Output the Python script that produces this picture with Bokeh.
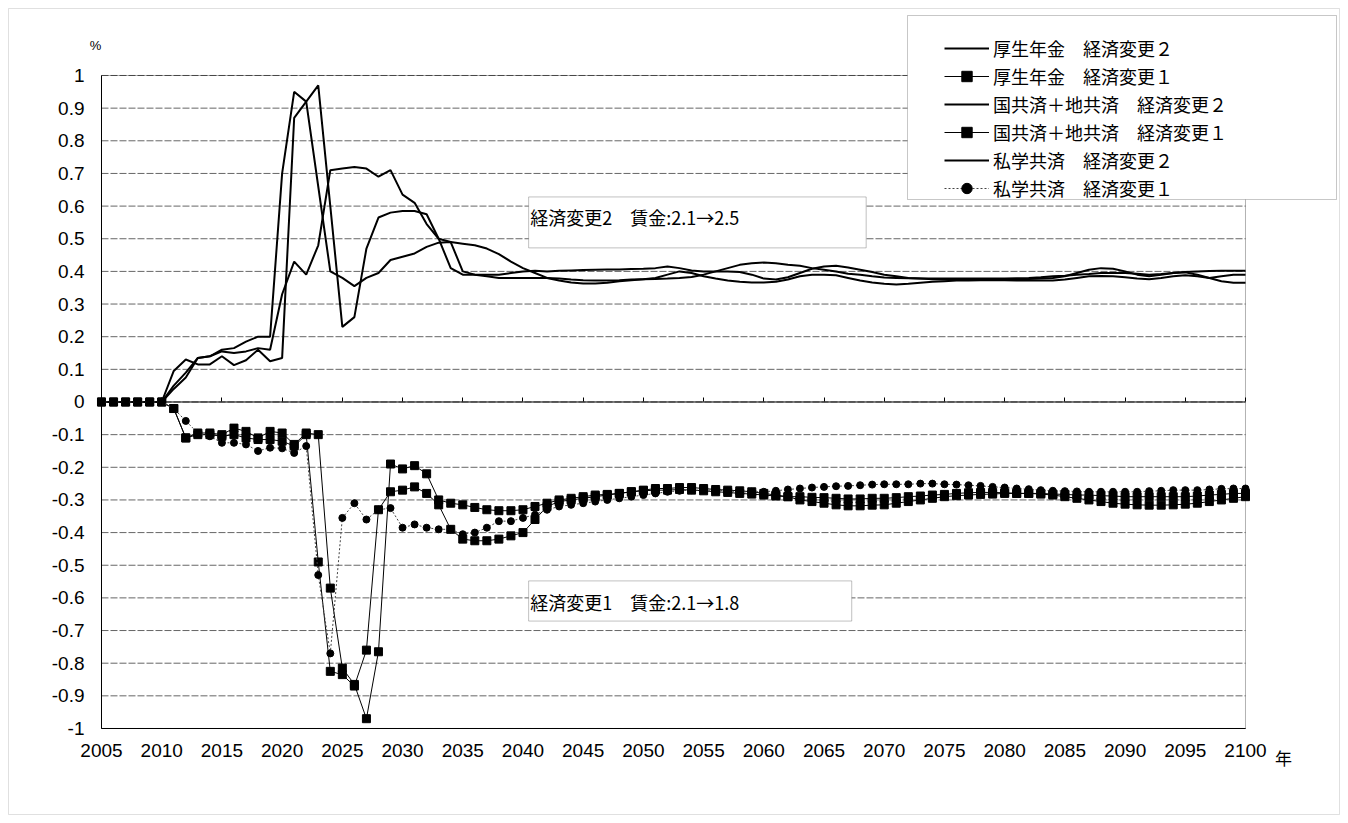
from bokeh.plotting import figure
from bokeh.models import (FixedTicker, Legend, LegendItem, Label, BoxAnnotation,
                          LinearAxis, CustomJSTickFormatter)
from bokeh.embed import file_html
from bokeh.resources import INLINE

# ---------------- data ----------------
years = list(range(2005, 2101))

x_ticks = [2005, 2010, 2015, 2020, 2025, 2030, 2035, 2040, 2045, 2050,
           2055, 2060, 2065, 2070, 2075, 2080, 2085, 2090, 2095, 2100]
y_ticks = [1.0, 0.9, 0.8, 0.7, 0.6, 0.5, 0.4, 0.3, 0.2, 0.1, 0.0,
           -0.1, -0.2, -0.3, -0.4, -0.5, -0.6, -0.7, -0.8, -0.9, -1.0]
y_labels = ["1", "0.9", "0.8", "0.7", "0.6", "0.5", "0.4", "0.3", "0.2", "0.1", "0",
            "-0.1", "-0.2", "-0.3", "-0.4", "-0.5", "-0.6", "-0.7", "-0.8", "-0.9", "-1"]

names = ["厚生年金　経済変更２", "厚生年金　経済変更１",
         "国共済＋地共済　経済変更２", "国共済＋地共済　経済変更１",
         "私学共済　経済変更２", "私学共済　経済変更１"]

kosei_2 = [0, 0, 0, 0, 0, 0,
           0.05, 0.09, 0.135, 0.14, 0.16, 0.165, 0.185, 0.20, 0.20, 0.70,
           0.95, 0.92, 0.66, 0.40, 0.38, 0.355, 0.38, 0.395, 0.435, 0.445,
           0.455, 0.475, 0.488, 0.49, 0.485, 0.48, 0.47, 0.453, 0.43, 0.41,
           0.395, 0.38, 0.372, 0.366, 0.363, 0.363, 0.365, 0.37, 0.373, 0.376,
           0.38, 0.39, 0.40, 0.395, 0.385, 0.378, 0.372, 0.368, 0.366, 0.366,
           0.368, 0.375, 0.385, 0.39, 0.39, 0.388, 0.38, 0.372, 0.366, 0.362,
           0.36, 0.362, 0.365, 0.368, 0.37, 0.372, 0.372, 0.373, 0.373, 0.373,
           0.372, 0.372, 0.372, 0.372, 0.375, 0.38, 0.385, 0.386, 0.385, 0.382,
           0.378, 0.376, 0.38, 0.385, 0.388, 0.385, 0.38, 0.385, 0.39, 0.39]

kyosai_2 = [0, 0, 0, 0, 0, 0,
            0.095, 0.13, 0.115, 0.115, 0.14, 0.113, 0.128, 0.16, 0.125, 0.135,
            0.87, 0.92, 0.97, 0.60, 0.23, 0.26, 0.47, 0.565, 0.58, 0.585,
            0.585, 0.575, 0.50, 0.41, 0.39, 0.39, 0.39, 0.39, 0.395, 0.40,
            0.402, 0.40, 0.402, 0.403, 0.404, 0.405, 0.406, 0.406, 0.407, 0.408,
            0.41, 0.415, 0.41, 0.403, 0.40, 0.40, 0.40, 0.398, 0.39, 0.378,
            0.375, 0.382, 0.395, 0.408, 0.415, 0.417, 0.412, 0.405, 0.398, 0.39,
            0.385, 0.38, 0.378, 0.376, 0.375, 0.375, 0.375, 0.375, 0.375, 0.375,
            0.376, 0.377, 0.378, 0.38, 0.385, 0.395, 0.405, 0.41, 0.408, 0.40,
            0.39, 0.385, 0.39, 0.395, 0.397, 0.39, 0.38, 0.37, 0.365, 0.365]

shigaku_2 = [0, 0, 0, 0, 0, 0,
             0.04, 0.075, 0.135, 0.14, 0.155, 0.15, 0.155, 0.165, 0.16, 0.33,
             0.43, 0.39, 0.48, 0.71, 0.715, 0.72, 0.715, 0.69, 0.71, 0.635,
             0.61, 0.545, 0.50, 0.49, 0.40, 0.39, 0.385, 0.38, 0.38, 0.38,
             0.38, 0.38, 0.378, 0.375, 0.373, 0.372, 0.372, 0.373, 0.375, 0.376,
             0.377, 0.378, 0.38, 0.383, 0.39, 0.40, 0.41, 0.42, 0.425, 0.427,
             0.425, 0.42, 0.417, 0.41, 0.405, 0.40, 0.393, 0.39, 0.385, 0.381,
             0.38, 0.379, 0.378, 0.378, 0.378, 0.378, 0.378, 0.378, 0.378, 0.378,
             0.379, 0.38, 0.382, 0.385, 0.387, 0.39, 0.392, 0.395, 0.395, 0.395,
             0.393, 0.39, 0.392, 0.395, 0.398, 0.40, 0.401, 0.402, 0.402, 0.402]

kosei_1 = [0, 0, 0, 0, 0, 0,
           -0.02, -0.11, -0.095, -0.095, -0.10, -0.08, -0.09, -0.11, -0.09, -0.095,
           -0.13, -0.095, -0.10, -0.57, -0.815, -0.865, -0.97, -0.765, -0.19, -0.205,
           -0.195, -0.22, -0.30, -0.31, -0.315, -0.323, -0.33, -0.333, -0.333, -0.33,
           -0.32, -0.31, -0.30, -0.295, -0.29, -0.285, -0.283, -0.28, -0.275, -0.27,
           -0.265, -0.265, -0.262, -0.262, -0.265, -0.268, -0.27, -0.272, -0.275, -0.28,
           -0.285, -0.29, -0.30, -0.305, -0.31, -0.315, -0.318, -0.318, -0.316, -0.315,
           -0.31, -0.305, -0.30, -0.295, -0.29, -0.287, -0.285, -0.283, -0.282, -0.28,
           -0.28, -0.28, -0.282, -0.285, -0.29, -0.295, -0.30, -0.305, -0.31, -0.313,
           -0.315, -0.316, -0.316, -0.315, -0.313, -0.31, -0.305, -0.30, -0.295, -0.29]

kyosai_1 = [0, 0, 0, 0, 0, 0,
            -0.02, -0.11, -0.10, -0.10, -0.105, -0.10, -0.11, -0.115, -0.115, -0.12,
            -0.135, -0.10, -0.49, -0.825, -0.835, -0.87, -0.76, -0.33, -0.275, -0.27,
            -0.26, -0.28, -0.315, -0.39, -0.42, -0.425, -0.425, -0.42, -0.41, -0.40,
            -0.36, -0.32, -0.305, -0.30, -0.295, -0.29, -0.285, -0.28, -0.275, -0.272,
            -0.27, -0.27, -0.268, -0.27, -0.272, -0.275, -0.277, -0.28, -0.282, -0.285,
            -0.288, -0.29, -0.29, -0.292, -0.293, -0.295, -0.297, -0.297, -0.295, -0.295,
            -0.293, -0.29, -0.288, -0.285, -0.283, -0.28, -0.278, -0.277, -0.277, -0.278,
            -0.28, -0.28, -0.28, -0.282, -0.283, -0.285, -0.285, -0.287, -0.288, -0.29,
            -0.29, -0.29, -0.29, -0.29, -0.29, -0.288, -0.285, -0.283, -0.28, -0.28]

shigaku_1 = [0, 0, 0, 0, 0, 0,
             -0.02, -0.058, -0.095, -0.105, -0.125, -0.125, -0.13, -0.15, -0.14, -0.142,
             -0.156, -0.135, -0.53, -0.77, -0.355, -0.31, -0.36, -0.33, -0.325, -0.385,
             -0.375, -0.385, -0.39, -0.39, -0.405, -0.40, -0.385, -0.365, -0.365, -0.355,
             -0.345, -0.33, -0.32, -0.315, -0.31, -0.305, -0.30, -0.295, -0.29, -0.285,
             -0.28, -0.275, -0.272, -0.27, -0.27, -0.27, -0.272, -0.275, -0.275, -0.275,
             -0.272, -0.268, -0.265, -0.262, -0.26, -0.258, -0.257, -0.255, -0.253, -0.252,
             -0.252, -0.252, -0.25, -0.25, -0.252, -0.253, -0.255, -0.257, -0.26, -0.262,
             -0.265, -0.267, -0.27, -0.272, -0.273, -0.274, -0.275, -0.275, -0.275, -0.275,
             -0.275, -0.273, -0.272, -0.27, -0.27, -0.27, -0.268, -0.266, -0.265, -0.265]

note_2 = "経済変更2　賃金:2.1→2.5"
note_1 = "経済変更1　賃金:2.1→1.8"

# ---------------- figure ----------------
JP = "Noto Sans CJK JP"
NUM = "Liberation Sans"

X0, X1 = 2005, 2100
Y0, Y1 = -1.0, 1.0
W, H = 1340, 815

# frame fills the whole canvas; data area (2005..2100, -1..1) sits at px 101..1245, 75..728
p = figure(width=W, height=H, x_range=(1996.613, 2107.889), y_range=(-1.2665, 1.2297),
           output_backend="svg", toolbar_location=None, x_axis_location=None, y_axis_location=None,
           min_border_left=0, min_border_right=0, min_border_top=0, min_border_bottom=0)
p.background_fill_color = "white"
p.border_fill_color = "white"
p.outline_line_color = None
p.grid.visible = False

xaxis = LinearAxis(fixed_location=Y0, bounds=(X0, X1), ticker=FixedTicker(ticks=x_ticks))
yaxis = LinearAxis(fixed_location=X0, bounds=(Y0, Y1), ticker=FixedTicker(ticks=y_ticks))
yaxis.major_label_overrides = dict(zip(y_ticks, y_labels))
for ax in (xaxis, yaxis):
    ax.axis_line_color = "black"
    ax.major_tick_line_color = None
    ax.minor_tick_line_color = None
    ax.major_label_text_font = NUM
    ax.major_label_text_font_size = "19px"
    ax.major_label_text_color = "black"
xaxis.major_label_standoff = 10
yaxis.major_label_standoff = 11
p.add_layout(xaxis, "below")
p.add_layout(yaxis, "left")

# small tick marks on the zero line
zaxis = LinearAxis(fixed_location=0, bounds=(X0, X1), ticker=FixedTicker(ticks=x_ticks),
                   formatter=CustomJSTickFormatter(code="return ''"))
zaxis.axis_line_color = None
zaxis.major_tick_in = 4
zaxis.major_tick_out = 0
zaxis.major_tick_line_color = "black"
zaxis.minor_tick_line_color = None
p.add_layout(zaxis, "below")

# horizontal grid lines, limited to the plot area
p.segment(x0=X0, x1=X1, y0=y_ticks, y1=y_ticks, line_color="#666666", line_width=1,
          line_dash="7 2", level="underlay")
p.segment(x0=X0, x1=X1, y0=[0.0], y1=[0.0], line_color="black", line_width=1,
          level="underlay")

# outer chart border and plot-area border
p.add_layout(BoxAnnotation(left=8, right=W - 1, top=H - 8, bottom=1,
                           left_units="screen", right_units="screen",
                           top_units="screen", bottom_units="screen",
                           fill_alpha=0, line_color="#999999", line_width=1))
p.add_layout(BoxAnnotation(left=X0, right=X1, top=Y1, bottom=Y0, fill_alpha=0,
                           line_color="black", line_width=1, level="underlay"))

# ---------------- series ----------------
r_k2 = p.line(years, kosei_2, line_color="black", line_width=2)
r_k1l = p.line(years, kosei_1, line_color="black", line_width=1)
r_k1m = p.scatter(years, kosei_1, marker="square", size=8, color="black")
r_c2 = p.line(years, kyosai_2, line_color="black", line_width=2)
r_c1l = p.line(years, kyosai_1, line_color="black", line_width=1)
r_c1m = p.scatter(years, kyosai_1, marker="square", size=8, color="black")
r_s2 = p.line(years, shigaku_2, line_color="black", line_width=2)
r_s1l = p.line(years, shigaku_1, line_color="#444444", line_width=1, line_dash="2 2")
r_s1m = p.scatter(years, shigaku_1, marker="circle", size=7, color="black")

# ---------------- annotation boxes ----------------
p.add_layout(BoxAnnotation(left=2040.47, right=2068.5, top=0.628, bottom=0.472,
                           fill_color="white", fill_alpha=1, line_color="#333333", line_width=1))
p.add_layout(Label(x=2040.6, y=0.568, text=note_2, text_font=JP, text_font_size="18px",
                   text_baseline="middle", text_align="left", text_color="black"))
p.add_layout(BoxAnnotation(left=2040.47, right=2067.3, top=-0.548, bottom=-0.671,
                           fill_color="white", fill_alpha=1, line_color="#333333", line_width=1))
p.add_layout(Label(x=2040.6, y=-0.612, text=note_1, text_font=JP, text_font_size="18px",
                   text_baseline="middle", text_align="left", text_color="black"))

# axis unit labels (screen units measured from the canvas bottom-left)
p.add_layout(Label(x=95, y=H - 45, x_units="screen", y_units="screen", text="%",
                   text_font=NUM, text_font_size="13px", text_align="center",
                   text_baseline="middle", text_color="black"))
p.add_layout(Label(x=1283, y=H - 757, x_units="screen", y_units="screen", text="年",
                   text_font=JP, text_font_size="17px", text_align="center",
                   text_baseline="middle", text_color="black"))

# ---------------- legend ----------------
p.add_layout(BoxAnnotation(left=907, right=1336, top=H - 15, bottom=H - 199,
                           left_units="screen", right_units="screen",
                           top_units="screen", bottom_units="screen",
                           fill_color="white", fill_alpha=1, line_color="#444444", line_width=1))
items = [
    LegendItem(label=names[0], renderers=[r_k2]),
    LegendItem(label=names[1], renderers=[r_k1l, r_k1m]),
    LegendItem(label=names[2], renderers=[r_c2]),
    LegendItem(label=names[3], renderers=[r_c1l, r_c1m]),
    LegendItem(label=names[4], renderers=[r_s2]),
    LegendItem(label=names[5], renderers=[r_s1l, r_s1m]),
]
legend = Legend(items=items, location=(944, H - 201), margin=0, padding=8, spacing=2,
                glyph_width=45, glyph_height=26, label_height=26,
                label_standoff=4, label_text_font=JP, label_text_font_size="18px",
                label_text_color="black", border_line_color=None,
                background_fill_alpha=0)
p.add_layout(legend)

open("out.html", "w").write(file_html(p, INLINE))
